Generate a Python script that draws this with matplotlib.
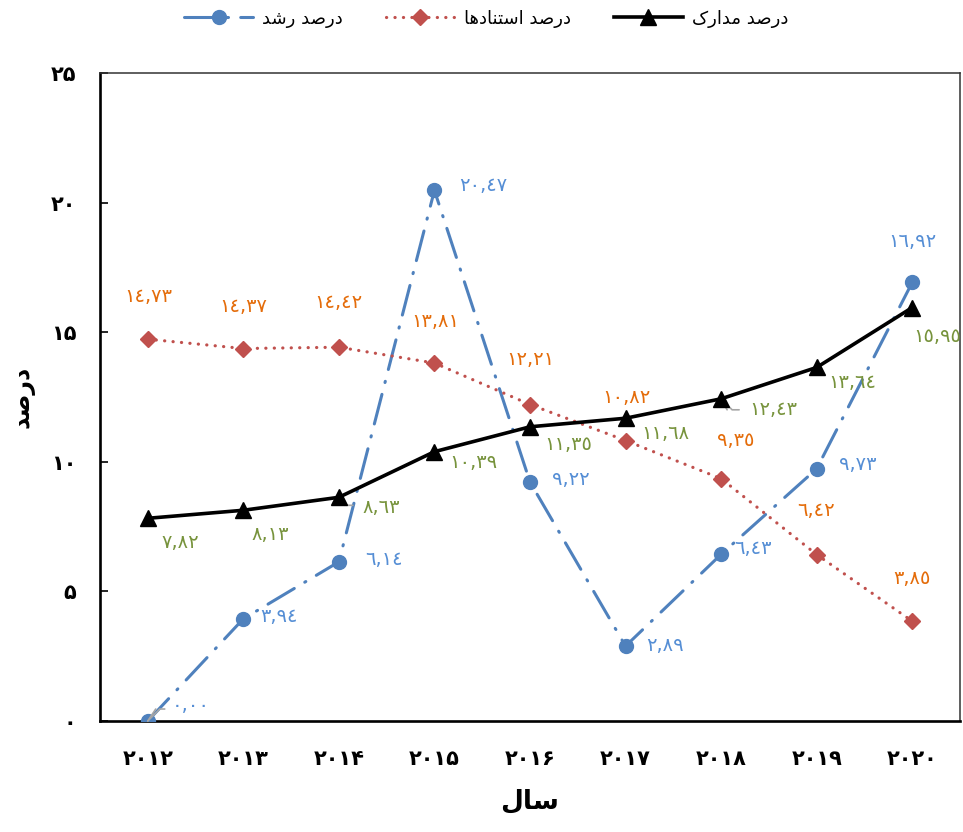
import matplotlib
matplotlib.use("Agg")
import matplotlib.pyplot as plt

# داده‌ها
years = [2012, 2013, 2014, 2015, 2016, 2017, 2018, 2019, 2020]
growth = [0.00, 3.94, 6.14, 20.47, 9.22, 2.89, 6.43, 9.73, 16.92]
citations = [14.73, 14.37, 14.42, 13.81, 12.21, 10.82, 9.35, 6.42, 3.85]
documents = [7.82, 8.13, 8.63, 10.39, 11.35, 11.68, 12.43, 13.64, 15.95]
y_ticks = [0, 5, 10, 15, 20, 25]

# اشکال حروف: isolated, final, initial, medial
FORMS = {
    "\u0627": ("\uFE8D", "\uFE8E", None, None),      # ا
    "\u062F": ("\uFEA9", "\uFEAA", None, None),      # د
    "\u0631": ("\uFEAD", "\uFEAE", None, None),      # ر
    "\u0635": ("\uFEB9", "\uFEBA", "\uFEBB", "\uFEBC"),  # ص
    "\u0634": ("\uFEB5", "\uFEB6", "\uFEB7", "\uFEB8"),  # ش
    "\u0633": ("\uFEB1", "\uFEB2", "\uFEB3", "\uFEB4"),  # س
    "\u062A": ("\uFE95", "\uFE96", "\uFE97", "\uFE98"),  # ت
    "\u0646": ("\uFEE5", "\uFEE6", "\uFEE7", "\uFEE8"),  # ن
    "\u0647": ("\uFEE9", "\uFEEA", "\uFEEB", "\uFEEC"),  # ه
    "\u0645": ("\uFEE1", "\uFEE2", "\uFEE3", "\uFEE4"),  # م
    "\u0644": ("\uFEDD", "\uFEDE", "\uFEDF", "\uFEE0"),  # ل
    "\u06A9": ("\uFB8E", "\uFB8F", "\uFB90", "\uFB91"),  # ک
}


def shape(text):
    """حروف را به شکل پیوسته درآورده و برای نمایش راست به چپ برعکس می‌کند"""
    out = []
    for i, ch in enumerate(text):
        if ch not in FORMS:
            out.append(ch)
            continue
        prev = text[i - 1] if i > 0 else ""
        nxt = text[i + 1] if i + 1 < len(text) else ""
        iso, fin, ini, med = FORMS[ch]
        join_prev = prev in FORMS and FORMS[prev][2] is not None
        join_next = nxt in FORMS and ini is not None
        if join_prev and join_next:
            out.append(med)
        elif join_prev:
            out.append(fin)
        elif join_next:
            out.append(ini)
        else:
            out.append(iso)
    return "".join(reversed(out))


def fa_digits(s):
    return "".join(chr(0x06F0 + int(c)) if c.isdigit() else c for c in str(s))


def ar_label(v):
    s = f"{v:.2f}".replace(".", ",")
    return "".join(chr(0x0660 + int(c)) if c.isdigit() else c for c in s)


plt.rcParams["font.family"] = ["DejaVu Sans"]

fig = plt.figure(figsize=(9.63, 8.32), dpi=100)
ax = fig.add_axes([0.1038, 0.1334, 0.8931, 0.7789])
x = list(range(len(years)))

ax.plot(x, growth, color="#4f81bd", lw=2.2, dashes=(10, 4, 0.4, 4),
        dash_capstyle="round", marker="o", ms=10, label=shape("درصد رشد"), zorder=3)
ax.plot(x, citations, color="#c0504d", lw=2.3, linestyle=(0, (0.05, 2.6)),
        dash_capstyle="round", marker="D", ms=8, label=shape("درصد استنادها"), zorder=3)
ax.plot(x, documents, color="black", lw=2.6, marker="^", ms=11,
        label=shape("درصد مدارک"), zorder=4)

# برچسب‌های داده (جابجایی به پیکسل)
growth_off = [(24, 16), (17, 2), (26, 2), (25, 5), (22, 3), (21, 1), (13, 6), (22, 4), (0, 41)]
cit_off = [(1, 43), (0, 42), (-1, 45), (1, 42), (0, 45), (1, 43), (15, 38), (-1, 44), (0, 43)]
doc_off = [(14, -24), (8, -24), (24, -10), (15, -11), (14, -18), (16, -15), (28, -11), (12, -15), (1, -29)]

px = 0.72
lab_fs = 14
for i, v in enumerate(growth):
    dx, dy = growth_off[i]
    ha = "center" if i == 8 else "left"
    ax.annotate(ar_label(v), (x[i], v), xytext=(dx * px, dy * px), textcoords="offset points",
                ha=ha, va="center", fontsize=lab_fs, color="#558ed5")
for i, v in enumerate(citations):
    dx, dy = cit_off[i]
    ax.annotate(ar_label(v), (x[i], v), xytext=(dx * px, dy * px), textcoords="offset points",
                ha="center", va="center", fontsize=lab_fs, color="#e46c0a")
for i, v in enumerate(documents):
    dx, dy = doc_off[i]
    ax.annotate(ar_label(v), (x[i], v), xytext=(dx * px, dy * px), textcoords="offset points",
                ha="left", va="center", fontsize=lab_fs, color="#77933c")

# خطوط راهنما
for xi, v, pts in [(0, growth[0], [(0, 0), (8, 12), (17, 12)]),
                   (2, documents[2], [(0, 0), (6, -8), (14, -8)]),
                   (6, documents[6], [(0, 0), (6, -11), (18, -11)])]:
    ax.annotate("", (x[xi], v), xytext=(pts[1][0] * px, pts[1][1] * px), textcoords="offset points",
                arrowprops=dict(arrowstyle="-", color="#a6a6a6", lw=1.2, shrinkA=0, shrinkB=0))
    ax.annotate("", (x[xi], v), xytext=(pts[2][0] * px, pts[2][1] * px), textcoords="offset points",
                arrowprops=dict(arrowstyle="-", color="#a6a6a6", lw=1.2, shrinkA=0, shrinkB=0,
                                connectionstyle="angle,angleA=0,angleB=%d" % (45 if xi == 0 else -45)))

ax.set_xlim(-0.5, 8.5)
ax.set_ylim(0, 25)
ax.set_xticks(x)
ax.set_xticklabels([fa_digits(y) for y in years], fontsize=15, fontweight="bold")
ax.set_yticks(y_ticks)
ax.set_yticklabels([fa_digits(t) for t in y_ticks], fontsize=15, fontweight="bold")
ax.tick_params(axis="x", length=0, pad=20)
ax.tick_params(axis="y", direction="in", length=6, width=1.2, pad=17)

for side in ["left", "bottom"]:
    ax.spines[side].set_linewidth(1.9)
    ax.spines[side].set_color("black")
for side in ["top", "right"]:
    ax.spines[side].set_linewidth(1.1)
    ax.spines[side].set_color("#333333")

ax.set_ylabel(shape("درصد"), fontsize=17, fontweight="bold", labelpad=12)
ax.set_xlabel(shape("سال"), fontsize=19, fontweight="bold", labelpad=14)

fig.legend(loc="upper center", bbox_to_anchor=(0.505, 1.008), ncol=3, frameon=False,
           fontsize=13, handlelength=3.8, columnspacing=2.4, handletextpad=0.5)

fig.savefig("out.png", dpi=100)
